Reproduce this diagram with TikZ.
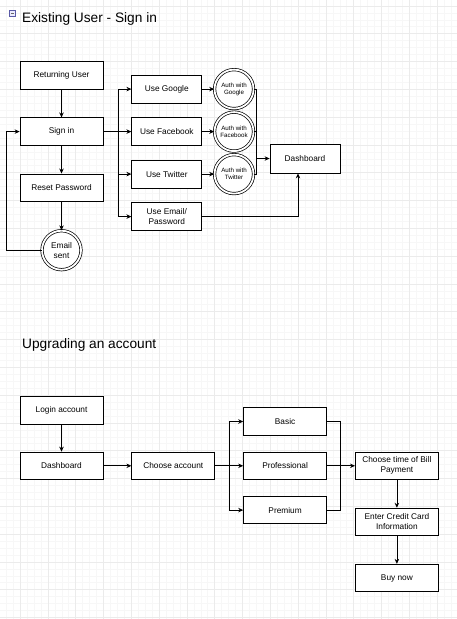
\documentclass[tikz,border=0pt]{standalone}
\usepackage{fontspec}
\setmainfont{Liberation Sans}
\usetikzlibrary{arrows.meta,positioning}

\begin{document}
\begin{tikzpicture}[
    x=1pt, y=-1pt,
    node distance=27.8pt and 28pt,
    box/.style={draw, line width=0.8pt, minimum width=83pt, minimum height=27.5pt, align=center, font=\fontsize{8.3}{10}\selectfont, fill=white, inner sep=1pt},
    ubox/.style={box, minimum width=70pt, minimum height=28pt},
    ring/.style={draw, circle, double, double distance=1.8pt, line width=0.7pt, minimum size=39pt, inner sep=0pt, align=center, fill=white, font=\fontsize{8.3}{10}\selectfont},
    aring/.style={ring, font=\fontsize{6.2}{7}\selectfont},
    title/.style={anchor=west, inner sep=2pt, font=\fontsize{13.7}{16}\selectfont},
    arrow/.style={-{Stealth[length=5pt,width=4.5pt]}, line width=0.8pt},
    line/.style={line width=0.8pt},
    minor/.style={black!3, line width=0.4pt},
    major/.style={black!8, line width=0.5pt}
]
\useasboundingbox[fill=white] (0,0) rectangle (457,619);

% grid
\foreach \k in {0,...,66} \draw[minor] ({6.1+6.95*\k},0) -- ({6.1+6.95*\k},619);
\foreach \k in {0,...,89} \draw[minor] (0,{5.8+6.95*\k}) -- (457,{5.8+6.95*\k});
\foreach \k in {1,...,17} \draw[major] ({-7.8+27.8*\k},0) -- ({-7.8+27.8*\k},619);
\foreach \k in {0,...,22} \draw[major] (0,{5.8+27.8*\k}) -- (457,{5.8+27.8*\k});

% sign in
\node[draw=blue!30!gray, fill=blue!8, line width=0.5pt, minimum size=6pt, inner sep=0pt] (fold) at (12.3,13.3) {};
\draw[gray!80!black, line width=0.6pt] ([xshift=1.5pt]fold.west) -- ([xshift=-1.5pt]fold.east);
\node[title] (t1) at (20,19) {Existing User - Sign in};

\node[box] (ret) at (61.5,75.5) {Returning User};
\node[box, below=of ret] (sign) {Sign in};
\node[box, below=of sign] (reset) {Reset Password};
\node[ring, below=28.5pt of reset] (sent) {Email\\sent};

\node[ubox, right=of sign] (fb) {Use Facebook};
\node[ubox, above=13.7pt of fb] (google) {Use Google};
\node[ubox, below=13.7pt of fb] (tw) {Use Twitter};
\node[ubox, below=13.7pt of tw] (mail) {Use Email/\\Password};

\node[aring, right=12pt of google] (ag) {Auth with\\Google};
\node[aring, right=12pt of fb] (af) {Auth with\\Facebook};
\node[aring, right=12pt of tw] (at) {Auth with\\Twitter};
\node[ubox, minimum height=29pt] (dash) at (305,158.5) {Dashboard};

\coordinate (split) at ([xshift=14.5pt]sign.east);
\coordinate (merge) at ([xshift=-13pt]dash.west);
\coordinate (loop) at ([xshift=-35pt]sent.west);

\draw[arrow] (ret) -- (sign);
\draw[arrow] (sign) -- (reset);
\draw[arrow] (reset) -- (sent);
\draw[arrow] (sent.west) -- (loop) |- (sign.west);
\draw[line] (sign.east) -- (split);
\draw[arrow] (split) |- (google.west);
\draw[arrow] (split) -- (fb.west);
\draw[arrow] (split) |- (tw.west);
\draw[arrow] (split) |- (mail.west);
\draw[arrow] (google) -- (ag);
\draw[arrow] (fb) -- (af);
\draw[arrow] (tw) -- (at);
\draw[line] (ag.east) -| (merge);
\draw[line] (af.east) -| (merge);
\draw[line] (at.east) -| (merge);
\draw[arrow] (merge) -- (dash.west);
\draw[arrow] (mail.east) -| ([xshift=-7pt]dash.south);

% upgrading
\node[title] (t2) at (20,345) {Upgrading an account};

\node[box] (login) at (61.5,410.5) {Login account};
\node[box, below=27pt of login] (dash2) {Dashboard};
\node[box, right=of dash2] (choose) {Choose account};
\node[box, right=of choose] (prof) {Professional};
\node[box, above=16pt of prof] (basic) {Basic};
\node[box, below=16pt of prof] (prem) {Premium};
\node[box, right=of prof] (bill) {Choose time of Bill\\Payment};
\node[box, below=of bill] (card) {Enter Credit Card\\Information};
\node[box, below=of card] (buy) {Buy now};

\coordinate (fork) at ([xshift=14pt]choose.east);
\coordinate (join) at ([xshift=13pt]prof.east);

\draw[arrow] (login) -- (dash2);
\draw[arrow] (dash2) -- (choose);
\draw[line] (choose) -- (fork);
\draw[arrow] (fork) |- (basic.west);
\draw[arrow] (fork) -- (prof.west);
\draw[arrow] (fork) |- (prem.west);
\draw[line] (basic.east) -| (join);
\draw[line] (prem.east) -| (join);
\draw[line] (prof.east) -- (join);
\draw[arrow] (join) -- (bill.west);
\draw[arrow] (bill) -- (card);
\draw[arrow] (card) -- (buy);
\end{tikzpicture}
\end{document}
